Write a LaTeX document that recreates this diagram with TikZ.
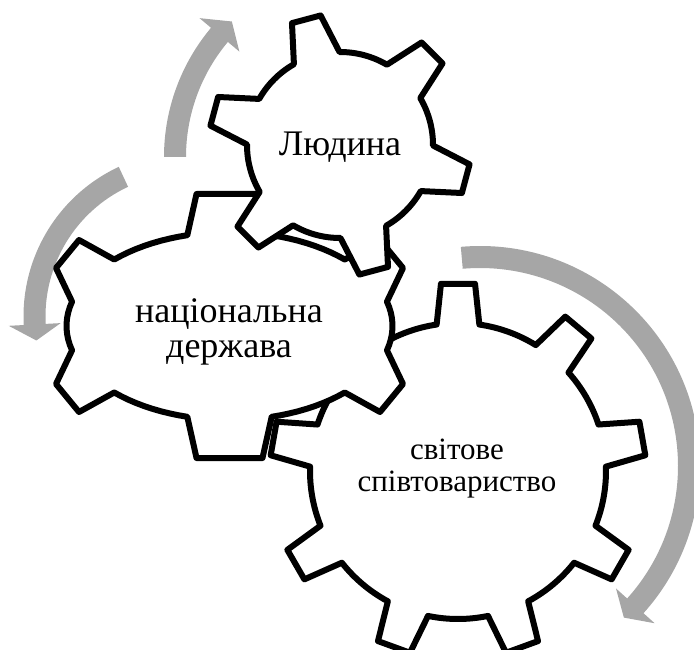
\documentclass[tikz,border=0pt]{standalone}
\usepackage{fontspec}
\setmainfont{Liberation Serif}
\usetikzlibrary{shadows}
\definecolor{arrowgray}{RGB}{166,166,166}
\tikzset{
  gearline/.style={draw=black, fill=white, line width=6pt, line join=round},
  gearshade/.style={drop shadow={opacity=0.15, shadow xshift=1.5pt, shadow yshift=-2.5pt}},
  cyclearrow/.style={fill=arrowgray, draw=none},
  gearlabel/.style={align=center, inner sep=0pt, text=black}
}
% round gear: #1 teeth, #2 first tooth angle, #3 outer R, #4 root r, #5 tip half-angle, #6 base half-angle
\newcommand{\roundgear}[6]{%
  ({#2-#6}:#4)
  \foreach \k in {1,...,#1}{%
    -- ({#2+(\k-1)*360/#1-#6}:#4)
    -- ({#2+(\k-1)*360/#1-#5}:#3)
    -- ({#2+(\k-1)*360/#1+#5}:#3)
    -- ({#2+(\k-1)*360/#1+#6}:#4)
    arc[start angle={#2+(\k-1)*360/#1+#6}, end angle={#2+\k*360/#1-#6}, radius=#4pt]
  }
  -- cycle}
% elliptic root arc of the wide gear
\newcommand{\earc}[2]{-- plot[domain=#1:#2, samples=10, variable=\t] ({163*cos(\t)},{94*sin(\t)})}
\begin{document}
\begin{tikzpicture}[x=1pt, y=1pt]
\useasboundingbox (0,0) rectangle (694,-650);
\clip (0,0) rectangle (694,-650);

% circular arrows (behind the gears)
\fill[cyclearrow, shift={(365,-157)}]
  (180:201) arc[start angle=180, end angle=140, radius=201pt]
  -- (140:216) -- (134.5:190) -- (140:164) -- (140:179)
  arc[start angle=140, end angle=180, radius=179pt] -- cycle;
\fill[cyclearrow, shift={(188.5,-316.4)}]
  (115:165) arc[start angle=115, end angle=183, radius=165pt]
  -- (183:180) -- (189:154) -- (183:128) -- (183:143)
  arc[start angle=183, end angle=115, radius=143pt] -- cycle;
\fill[cyclearrow, shift={(480,-466)}]
  (95:220) arc[start angle=95, end angle=-42, radius=220pt]
  -- (-42:235) -- (-46.5:209) -- (-42:183) -- (-42:198)
  arc[start angle=-42, end angle=95, radius=198pt] -- cycle;

% right (large) gear
\draw[gearline, gearshade, shift={(458,-471)}] \roundgear{9}{90}{188}{148}{5.2}{8.3};

% left (wide) gear
\draw[gearline, gearshade, shift={(229.5,-326)}]
  (42.19,90.80) -- (33,132) -- (-33,132) -- (-42.19,90.80)
  \earc{105}{135}
  -- (-150.5,86) -- (-173.5,58) -- (-157.45,24.33)
  \earc{165}{195}
  -- (-173.5,-58) -- (-150.5,-86) -- (-115.26,-66.47)
  \earc{225}{255}
  -- (-33,-132) -- (33,-132) -- (42.19,-90.80)
  \earc{285}{315}
  -- (150.5,-86) -- (173.5,-58) -- (157.45,-24.33)
  \earc{345}{375}
  -- (173.5,58) -- (150.5,86) -- (115.26,66.47)
  \earc{45}{75} -- cycle;

% top (small) gear
\draw[gearline, gearshade, shift={(340,-145)}] \roundgear{6}{105}{131}{93}{6.5}{14.7};

% labels
\node[gearlabel, font=\fontsize{36}{36}\selectfont, anchor=base] (person) at (340,-156) {Людина};
\node[gearlabel, font=\fontsize{36}{35}\selectfont] (nation) at (229,-332) {національна\\держава};
\node[gearlabel, font=\fontsize{31}{32}\selectfont] (world) at (457,-469) {світове\\співтовариство};
\end{tikzpicture}
\end{document}
